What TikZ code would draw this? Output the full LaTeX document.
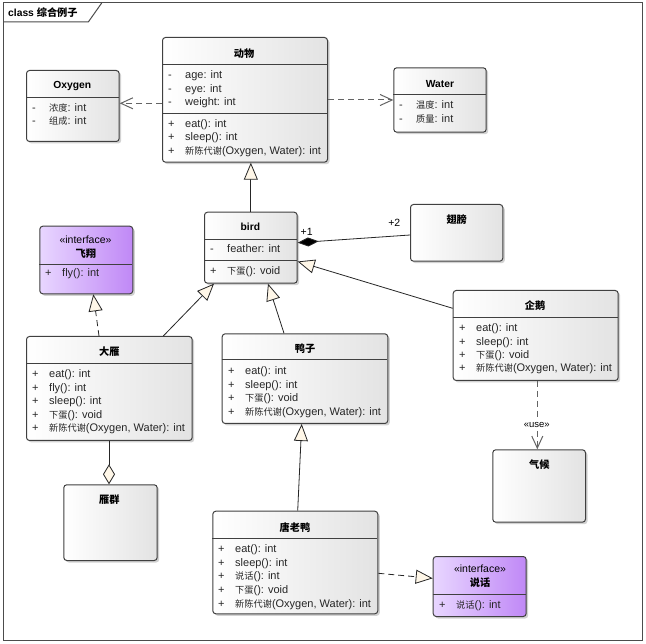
\documentclass[tikz,border=0pt]{standalone}
\usepackage{fontspec}
\setmainfont{Liberation Sans}
\newfontfamily\cjkfont{Noto Sans CJK SC}
\usetikzlibrary{arrows.meta,shadows,calc}
\newcommand{\zh}[1]{{\cjkfont\fontsize{9.2}{10}\selectfont #1}}
\newcommand{\zht}[1]{{\cjkfont\fontsize{10.2}{11}\selectfont #1}}
\definecolor{cream}{RGB}{255,247,232}
\definecolor{edgec}{RGB}{64,64,64}
\definecolor{ifl}{RGB}{232,214,255}
\definecolor{ifr}{RGB}{192,136,246}
\definecolor{depgray}{RGB}{100,100,100}
\newcommand{\mem}[5]{\node[mem] (#1) at (#2,#3) {\makebox[17pt][l]{#4}#5};}
\newcommand{\sepl}[3]{\draw[sepline] (#1,#3) -- (#2,#3);}
\begin{document}
\begin{tikzpicture}[x=1pt,y=-1pt,font=\fontsize{11}{12}\selectfont,
  cls/.style={draw=edgec, line width=1pt, rounded corners=3pt, left color=white, right color=gray!22,
    drop shadow={shadow xshift=2pt, shadow yshift=-2pt, opacity=0.35}, anchor=north west, inner sep=0},
  ifc/.style={cls, left color=ifl, right color=ifr},
  sepline/.style={draw=edgec, line width=1pt},
  ttl/.style={font=\fontsize{10.3}{12}\selectfont\bfseries, inner sep=0},
  mem/.style={anchor=west, inner sep=0, text height=7.5pt, text depth=2pt, text=black!85},
  gen/.style={draw=black!85, line width=0.8pt, -{Triangle[length=17pt,width=14pt,fill=cream]}},
  real/.style={gen, dash pattern=on 6pt off 4pt},
  dep/.style={draw=depgray, line width=1pt, dash pattern=on 6pt off 4pt, -{Straight Barb[length=12pt,width=11pt]}},
  lbl/.style={inner sep=0, font=\fontsize{10.5}{12}\selectfont}
]
\fill[white] (0,0) rectangle (646,644);
\useasboundingbox (0,0) rectangle (646,644);
% frame
\draw[black!70, line width=1pt] (3,3) rectangle (642,640);
\draw[black!70, line width=1pt] (3,22) -- (88.3,22) -- (101.7,3);
\node[ttl, anchor=west] (frametitle) at (8,13) {class \zht{综合例子}};

% boxes
\node[cls, minimum width=165pt, minimum height=124.7pt] (dongwu) at (162,37) {};
\node[cls, minimum width=92.7pt, minimum height=71pt] (oxygen) at (26,70) {};
\node[cls, minimum width=92.4pt, minimum height=64.4pt] (water) at (393.3,67.3) {};
\node[cls, minimum width=92.7pt, minimum height=71pt] (bird) at (204,211.7) {};
\node[cls, minimum width=92.3pt, minimum height=56.7pt] (chibang) at (410,204) {};
\node[ifc, minimum width=93pt, minimum height=67.6pt] (feixiang) at (39.3,225.7) {};
\node[cls, minimum width=165.7pt, minimum height=104pt] (dayan) at (26,336) {};
\node[cls, minimum width=165.6pt, minimum height=89.7pt] (yazi) at (221.7,333.3) {};
\node[cls, minimum width=165pt, minimum height=90pt] (qie) at (452.7,290) {};
\node[cls, minimum width=92.7pt, minimum height=72.4pt] (qihou) at (492.3,449.3) {};
\node[cls, minimum width=93.4pt, minimum height=75.7pt] (yanqun) at (63.3,484.3) {};
\node[cls, minimum width=165pt, minimum height=102.6pt] (tly) at (212.3,510.7) {};
\node[ifc, minimum width=93pt, minimum height=60pt] (shuohua) at (432.7,556) {};

% separators
\sepl{162}{327}{64.3}\sepl{162}{327}{113.3}
\sepl{26}{118.7}{97.7}
\sepl{393.3}{485.7}{95}
\sepl{204}{296.7}{239.3}\sepl{204}{296.7}{261}
\sepl{39.3}{132.3}{264.3}
\sepl{26}{191.7}{364}
\sepl{221.7}{387.3}{359.3}
\sepl{452.7}{617.7}{317.7}
\sepl{212.3}{377.3}{538.3}
\sepl{432.7}{525.7}{594.3}

% titles
\node[ttl] (t-dongwu) at (244,53.3) {\zht{动物}};
\node[ttl] (t-oxygen) at (72.3,85.7) {Oxygen};
\node[ttl] (t-water) at (440,84) {Water};
\node[ttl] (t-bird) at (250.4,227.3) {bird};
\node[ttl] (t-chibang) at (456.7,219.3) {\zht{翅膀}};
\node[lbl] (s-feixiang) at (85.5,239.3) {«interface»};
\node[ttl] (t-feixiang) at (85.8,253.3) {\zht{飞翔}};
\node[ttl] (t-dayan) at (109.3,352) {\zht{大雁}};
\node[ttl] (t-yazi) at (305,348.3) {\zht{鸭子}};
\node[ttl] (t-qie) at (535,305.7) {\zht{企鹅}};
\node[ttl] (t-qihou) at (539.3,465) {\zht{气候}};
\node[ttl] (t-yanqun) at (109.3,500) {\zht{雁群}};
\node[ttl] (t-tly) at (295,527.7) {\zht{唐老鸭}};
\node[lbl] (s-shuohua) at (480,569) {«interface»};
\node[ttl] (t-shuohua) at (480,582.7) {\zht{说话}};

% members
\mem{dw1}{168}{75.7}{-}{age: int}
\mem{dw2}{168}{89.3}{-}{eye: int}
\mem{dw3}{168}{102.7}{-}{weight: int}
\mem{dw4}{168}{125}{+}{eat(): int}
\mem{dw5}{168}{137.7}{+}{sleep(): int}
\mem{dw6}{168}{151.7}{+}{\zh{新陈代谢}(Oxygen, Water): int}
\mem{ox1}{32}{109}{-}{\zh{浓度}: int}
\mem{ox2}{32}{121.7}{-}{\zh{组成}: int}
\mem{wa1}{399}{106}{-}{\zh{温度}: int}
\mem{wa2}{399}{120}{-}{\zh{质量}: int}
\mem{bi1}{210}{250}{-}{feather: int}
\mem{bi2}{210}{271.7}{+}{\zh{下蛋}(): void}
\mem{fx1}{45}{274}{+}{fly(): int}
\mem{dy1}{32}{374.3}{+}{eat(): int}
\mem{dy2}{32}{388.7}{+}{fly(): int}
\mem{dy3}{32}{401.7}{+}{sleep(): int}
\mem{dy4}{32}{415.7}{+}{\zh{下蛋}(): void}
\mem{dy5}{32}{428.7}{+}{\zh{新陈代谢}(Oxygen, Water): int}
\mem{yz1}{228}{371.7}{+}{eat(): int}
\mem{yz2}{228}{386}{+}{sleep(): int}
\mem{yz3}{228}{398.3}{+}{\zh{下蛋}(): void}
\mem{yz4}{228}{412.3}{+}{\zh{新陈代谢}(Oxygen, Water): int}
\mem{qe1}{459}{328.3}{+}{eat(): int}
\mem{qe2}{459}{342.3}{+}{sleep(): int}
\mem{qe3}{459}{356}{+}{\zh{下蛋}(): void}
\mem{qe4}{459}{368.3}{+}{\zh{新陈代谢}(Oxygen, Water): int}
\mem{tl1}{218}{549.3}{+}{eat(): int}
\mem{tl2}{218}{564}{+}{sleep(): int}
\mem{tl3}{218}{576.7}{+}{\zh{说话}(): int}
\mem{tl4}{218}{591}{+}{\zh{下蛋}(): void}
\mem{tl5}{218}{604.3}{+}{\zh{新陈代谢}(Oxygen, Water): int}
\mem{sh1}{439}{605.7}{+}{\zh{说话}(): int}

% connectors
\draw[dep] (dongwu.west |- 0,103.3) -- (oxygen.east |- 0,103.3);
\draw[dep] (dongwu.east |- 0,100) -- (water.west |- 0,100);
\draw[gen] (bird.north) -- (bird.north |- dongwu.south);
\draw[draw=black!85, line width=0.8pt, {Diamond[length=21pt,width=9pt,fill=black]}-] (bird.east |- 0,242.7) -- (chibang.west |- 0,235);
\node[lbl] (m1) at (306.7,231.7) {+1};
\node[lbl] (m2) at (394.3,222.7) {+2};
\draw[gen] (qie.west |- 0,308.3) -- (bird.east |- 0,261.5);
\draw[real] ([xshift=73pt]dayan.north west) -- ([xshift=54pt]feixiang.south west);
\draw[gen] ([xshift=137.3pt]dayan.north west) -- ([xshift=10pt]bird.south west);
\draw[gen] ([xshift=62.3pt]yazi.north west) -- ([xshift=64pt]bird.south west);
\draw[gen] ([xshift=85.4pt]tly.north west) -- ([xshift=80pt]yazi.south west);
\draw[real] (tly.east |- 0,573.3) -- (shuohua.west |- 0,578.3);
\draw[dep] ([xshift=84.6pt]qie.south west) -- ([xshift=45pt]qihou.north west);
\node[lbl, fill=white, inner sep=1pt, font=\fontsize{9.5}{11}\selectfont] (use) at (536.7,425) {«use»};
\draw[draw=black!85, line width=0.8pt, -{Diamond[length=20pt,width=12pt,fill=cream]}] ([xshift=83pt]dayan.south west) -- ([xshift=45.7pt]yanqun.north west);
\end{tikzpicture}
\end{document}
